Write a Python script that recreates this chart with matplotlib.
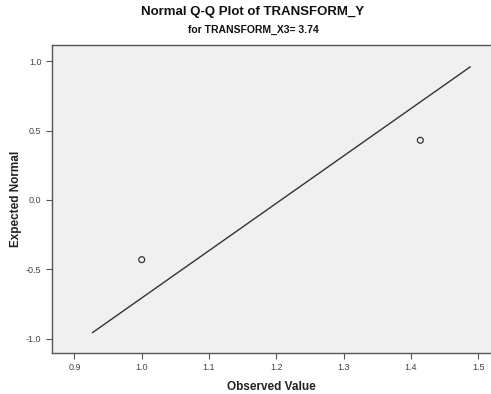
import numpy as np
import matplotlib
matplotlib.use("Agg")
import matplotlib.pyplot as plt

observed = [1.0, 1.414]
expected = [-0.4307, 0.4307]
line_x = [0.927, 1.488]
xticks = [0.9, 1.0, 1.1, 1.2, 1.3, 1.4, 1.5]
yticks = [-1.0, -0.5, 0.0, 0.5, 1.0]

plt.rcParams['font.family'] = ['Liberation Sans', 'DejaVu Sans']

fig = plt.figure(figsize=(4.91, 3.94), dpi=100)
ax = fig.add_axes([52/491, 1-353/394, 1-52/491, (353-45)/394])
ax.set_facecolor('#F0F0F0')

mx = np.mean(observed)
sd = np.std(observed, ddof=1)
lx = np.array(line_x)
ax.plot(lx, (lx - mx) / sd, color='#333333', lw=1.0)
ax.scatter(observed, expected, s=18, facecolors='none', edgecolors='#333333', linewidths=0.9, zorder=3)

ax.set_xlim(0.8667, 1.519)
ax.set_ylim(-1.104, 1.118)
ax.set_xticks(xticks)
ax.set_xticklabels([f"{v:.1f}" for v in xticks])
ax.set_yticks(yticks)
ax.set_yticklabels([f"{v:.1f}" for v in yticks])
ax.tick_params(labelsize=6.5, colors='#555555', length=4, width=0.8, direction='out')
ax.tick_params(labelcolor='#444444')
for s in ['left', 'bottom', 'top']:
    ax.spines[s].set_color('#555555')
    ax.spines[s].set_linewidth(1.0)
ax.spines['right'].set_visible(False)

ax.set_xlabel('Observed Value', fontsize=8.5, fontweight='bold', color='#222222', labelpad=6)
ax.set_ylabel('Expected Normal', fontsize=8.5, fontweight='bold', color='#222222')
ax.yaxis.set_label_coords((22 - 52) / 439, 0.5)

fig.text(253/491, 1-12/394, 'Normal Q-Q Plot of TRANSFORM_Y', ha='center', va='center',
         fontsize=9.5, fontweight='bold', color='#111111')
fig.text(253/491, 1-30/394, 'for TRANSFORM_X3= 3.74', ha='center', va='center',
         fontsize=7.5, fontweight='bold', color='#111111',
         family=['Liberation Sans Narrow', 'Liberation Sans', 'DejaVu Sans'])

fig.savefig('out.png', dpi=100)
